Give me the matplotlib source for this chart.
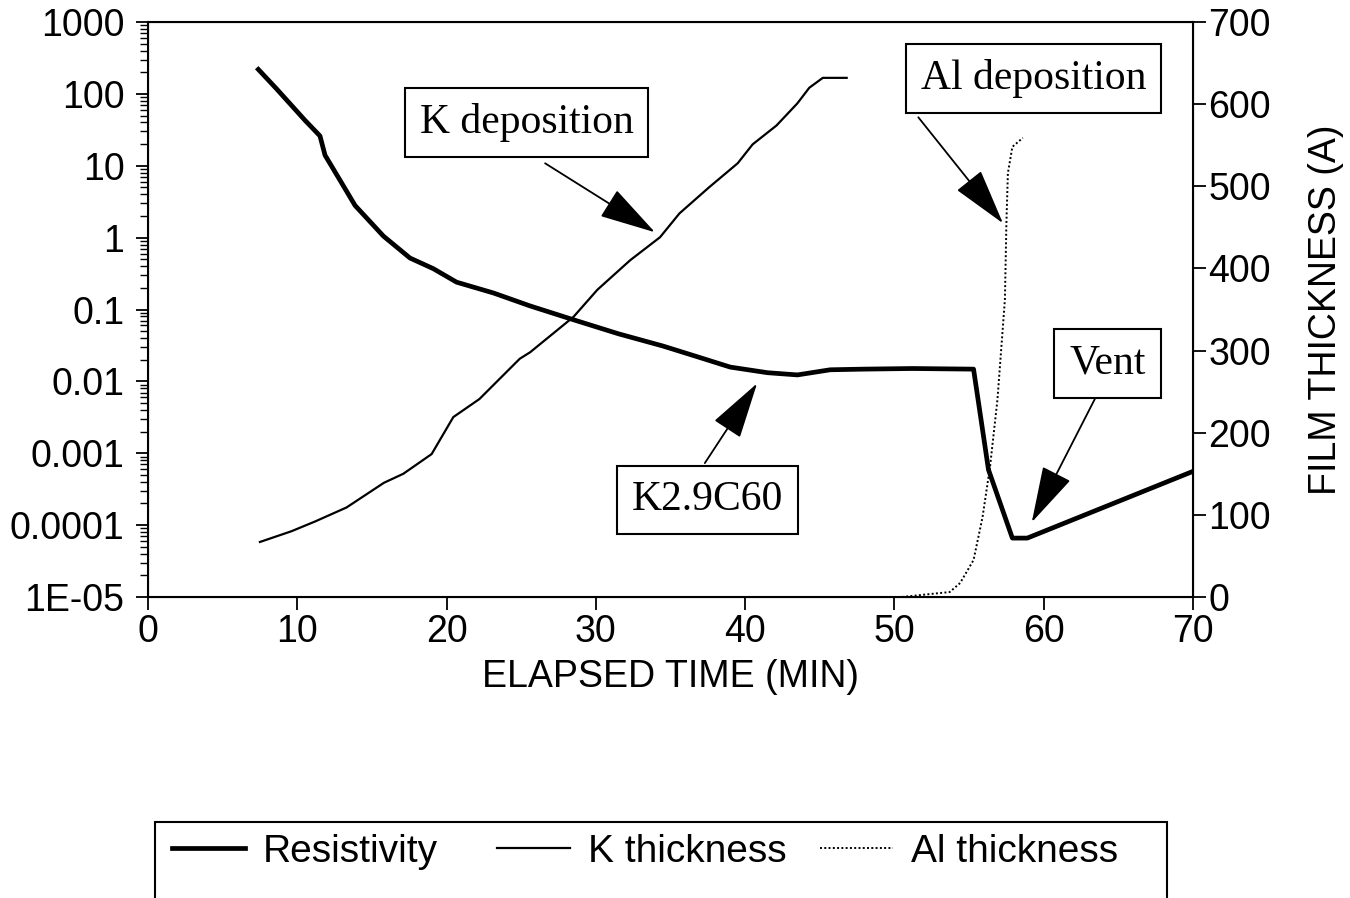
import matplotlib
matplotlib.use("Agg")
import matplotlib.pyplot as plt
from matplotlib.patches import Rectangle
from matplotlib.ticker import LogLocator, NullFormatter

plt.rcParams['font.family'] = ['Liberation Sans', 'DejaVu Sans']

# resistivity (left axis, log)
res_time = [7.39, 8.62, 10.51, 11.52, 11.86, 12.86, 13.87, 15.77, 17.55, 19.11,
            20.67, 23.13, 25.6, 28.5, 31.5, 34.5, 36.8, 39.0, 41.5, 43.5,
            45.7, 47.9, 51.2, 55.3, 56.3, 57.9, 58.9, 70.0]
res_val = [219, 117, 43, 26, 14, 6.3, 2.8, 1.05, 0.52, 0.37,
           0.24, 0.17, 0.112, 0.072, 0.046, 0.031, 0.022, 0.0158, 0.0132, 0.0123,
           0.0145, 0.0148, 0.0151, 0.0148, 0.00059, 6.6e-5, 6.6e-5, 5.6e-4]

# K film thickness (right axis)
k_time = [7.5, 9.6, 11.2, 13.3, 15.8, 17.1, 19.0, 20.45, 22.2, 24.9,
          25.6, 28.5, 30.1, 32.3, 34.3, 35.6, 37.6, 39.5, 40.5, 42.1,
          43.5, 44.3, 45.2, 46.8]
k_thick = [67, 80, 92, 109, 139, 150, 174, 219, 241, 290,
           298, 341, 374, 410, 438, 467, 499, 528, 551, 574,
           601, 620, 632, 632]

# Al film thickness (right axis)
al_time = [50.5, 52.6, 53.7, 54.4, 55.3, 55.9, 56.4, 56.9, 57.4, 57.5, 57.6, 57.9, 58.6]
al_thick = [0, 4, 6, 17, 45, 97, 158, 240, 362, 455, 516, 548, 559]

left_ticks = [1e-5, 1e-4, 1e-3, 1e-2, 1e-1, 1, 10, 100, 1000]
left_labels = ['1E-05', '0.0001', '0.001', '0.01', '0.1', '1', '10', '100', '1000']
x_ticks = [0, 10, 20, 30, 40, 50, 60, 70]
right_ticks = [0, 100, 200, 300, 400, 500, 600, 700]

fs = 27

fig = plt.figure(figsize=(13.5, 8.98), dpi=100)
ax = fig.add_axes([148/1350, 1-597/898, (1193-148)/1350, (597-22)/898])
ax.set_yscale('log')
ax.set_xlim(0, 70)
ax.set_ylim(1e-5, 1e3)
ax.set_yticks(left_ticks, left_labels)
ax.yaxis.set_minor_locator(LogLocator(base=10, subs=range(2, 10), numticks=20))
ax.yaxis.set_minor_formatter(NullFormatter())
ax.set_xticks(x_ticks)
ax.tick_params(axis='both', which='major', direction='out', length=9, width=1.3,
               labelsize=fs, pad=3)
ax.tick_params(axis='y', which='minor', direction='out', length=6, width=1.0)
ax.tick_params(axis='y', which='major', pad=8)
ax.set_xlabel('ELAPSED TIME (MIN)', fontsize=fs, labelpad=7)
for s in ax.spines.values():
    s.set_linewidth(1.5)

l1, = ax.plot(res_time, res_val, color='black', lw=3.4, label='Resistivity')

ax2 = ax.twinx()
ax2.set_ylim(0, 700)
ax2.set_yticks(right_ticks)
ax2.tick_params(axis='y', direction='out', length=9, width=1.3, labelsize=fs, pad=2)
ax2.set_ylabel('FILM THICKNESS (A)', fontsize=fs, labelpad=27)

l2, = ax2.plot(k_time, k_thick, color='black', lw=1.6, label='K thickness')
l3, = ax2.plot(al_time, al_thick, color='black', lw=1.4, ls=(0, (1, 1.2)),
               label='Al thickness')

# annotations
box = dict(boxstyle='square,pad=0.36', fc='white', ec='black', lw=1.5)
ap = dict(arrowstyle='-|>,head_length=1.8,head_width=0.5', color='black',
          lw=1.3, shrinkA=0, shrinkB=0, mutation_scale=20)
tfont = dict(family='Liberation Serif', fontsize=30, ha='center', va='center')

ax2.annotate('', xy=(33.96, 444), xytext=(26.6, 528), arrowprops=ap)
ax2.annotate('', xy=(57.27, 455), xytext=(51.6, 584), arrowprops=ap)
ax2.annotate('', xy=(59.2, 91), xytext=(64.24, 270), arrowprops=ap)
ax2.annotate('', xy=(40.8, 260), xytext=(37.3, 163), arrowprops=ap)

ax2.text(25.35, 578, 'K deposition', bbox=box, **tfont)
ax2.text(59.3, 631, 'Al deposition', bbox=box, **tfont)
ax2.text(64.27, 284, 'Vent', bbox=box, **tfont)
ax2.text(37.48, 118, 'K2.9C60', bbox=box, **tfont)

# legend at bottom, box runs off the lower edge
fig.patches.append(Rectangle((155/1350, -0.05), (1167-155)/1350, 0.05 + (898-822)/898,
                             transform=fig.transFigure, fill=False, ec='black', lw=1.5))
handles = [l1, l2, l3]
names = ['Resistivity', 'K thickness', 'Al thickness']
starts = [172, 497, 820]
for h, n, x0 in zip(handles, names, starts):
    fig.legend([h], [n], loc='center left', bbox_to_anchor=(x0/1350, 1-852/898),
               frameon=False, fontsize=28, handlelength=1.88, handletextpad=0.45,
               borderpad=0, borderaxespad=0)

fig.savefig('out.png', dpi=100)
